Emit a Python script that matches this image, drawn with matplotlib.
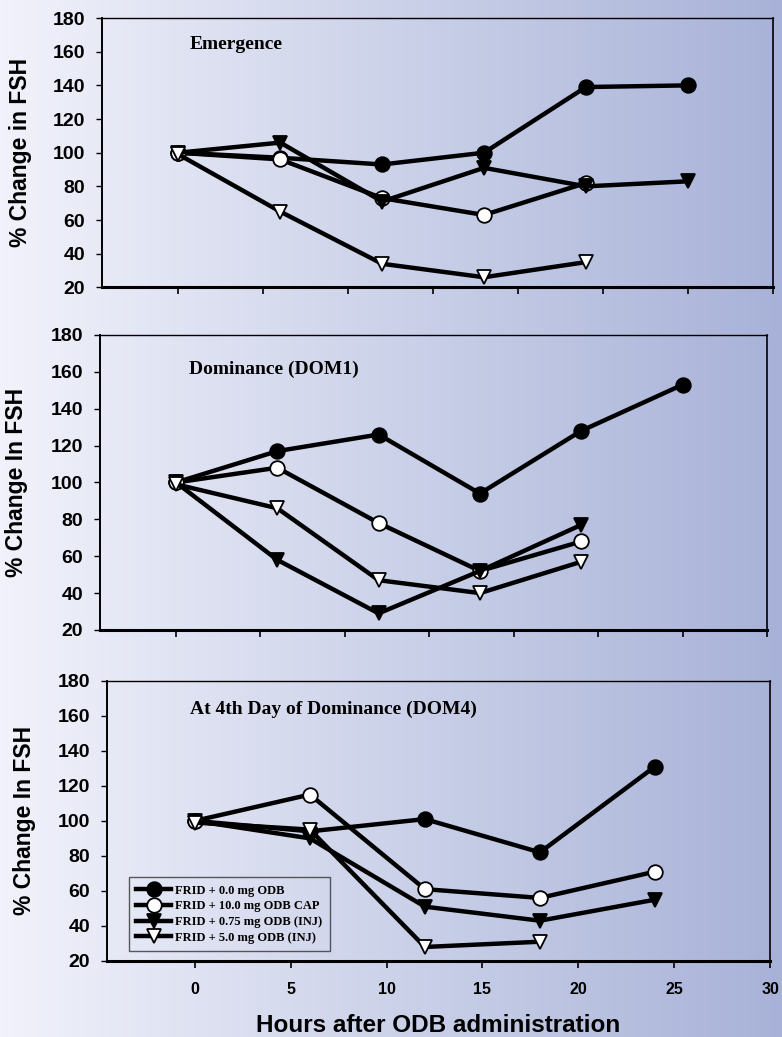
import numpy as np
import matplotlib
matplotlib.use("Agg")
import matplotlib.pyplot as plt
from matplotlib.colors import LinearSegmentedColormap

# sampling times (hours after ODB)
hours = [0, 6, 12, 18, 24, 30]

# Emergence
ctrl_emg = [100, 97, 93, 100, 139, 140]
cap_emg = [100, 96, 73, 63, 82]
inj075_emg = [100, 106, 71, 91, 80, 83]
inj5_emg = [99, 65, 34, 26, 35]

# Dominance (DOM1)
ctrl_dom1 = [100, 117, 126, 94, 128, 153]
cap_dom1 = [100, 108, 78, 52, 68]
inj075_dom1 = [100, 58, 29, 52, 77]
inj5_dom1 = [99, 86, 47, 40, 57]

# 4th day of dominance (DOM4)
ctrl_dom4 = [100, 94, 101, 82, 131]
cap_dom4 = [100, 115, 61, 56, 71]
inj075_dom4 = [100, 90, 51, 43, 55]
inj5_dom4 = [99, 95, 28, 31]

labels = ["FRID + 0.0 mg ODB", "FRID + 10.0 mg ODB CAP",
          "FRID + 0.75 mg ODB (INJ)", "FRID + 5.0 mg ODB (INJ)"]
yticks = [20, 40, 60, 80, 100, 120, 140, 160, 180]

styles = [dict(marker="o", mfc="black"),
          dict(marker="o", mfc="white"),
          dict(marker="v", mfc="black"),
          dict(marker="v", mfc="white")]

fig = plt.figure(figsize=(7.82, 10.37), dpi=100)

# background gradient, light on the left to blue on the right
bg = fig.add_axes([0, 0, 1, 1], zorder=-10)
cmap = LinearSegmentedColormap.from_list("bg", ["#f1f2fb", "#ccd2e9", "#a8b2d8"])
bg.imshow(np.linspace(0, 1, 256).reshape(1, -1), aspect="auto", cmap=cmap,
          extent=[0, 1, 0, 1])
bg.axis("off")

panels = [
    dict(rect=[0.1304, 0.7229, 0.8577, 0.2597], data=[ctrl_emg, cap_emg, inj075_emg, inj5_emg],
         title="Emergence", tpos=(0.130, 0.885), ylabel="% Change in FSH",
         xlim=(-4.5, 35), xticks=[0, 5, 10, 15, 20, 25, 30, 35], ylx=-0.105),
    dict(rect=[0.1279, 0.3925, 0.8529, 0.2845], data=[ctrl_dom1, cap_dom1, inj075_dom1, inj5_dom1],
         title="Dominance (DOM1)", tpos=(0.134, 0.868), ylabel="% Change In FSH",
         xlim=(-4.5, 35), xticks=[0, 5, 10, 15, 20, 25, 30, 35], ylx=-0.108),
    dict(rect=[0.1364, 0.0733, 0.8483, 0.2703], data=[ctrl_dom4, cap_dom4, inj075_dom4, inj5_dom4],
         title="At 4th Day of Dominance (DOM4)", tpos=(0.126, 0.881), ylabel="% Change In FSH",
         xlim=(-4.6, 30), xticks=[0, 5, 10, 15, 20, 25, 30], ylx=-0.106),
]

for i, p in enumerate(panels):
    ax = fig.add_axes(p["rect"])
    ax.set_facecolor("none")
    for ser, st, lab in zip(p["data"], styles, labels):
        ax.plot(hours[:len(ser)], ser, color="black", lw=3.2, ms=10.5, mec="black",
                mew=1.3, label=lab, zorder=3, clip_on=False, **st)
    ax.set_xlim(*p["xlim"])
    ax.set_ylim(20, 180)
    ax.set_yticks(yticks)
    ax.set_xticks(p["xticks"])
    ax.tick_params(axis="y", direction="out", length=4, width=1, pad=8,
                   labelsize=14)
    ax.tick_params(axis="x", direction="out", length=5, width=1.2, pad=10,
                   labelsize=11.5)
    for t in ax.get_yticklabels() + ax.get_xticklabels():
        t.set_fontweight("bold")
        t.set_family("Liberation Sans")
    if i < 2:
        ax.set_xticklabels([])
    ax.spines["bottom"].set_linewidth(2.2)
    ax.spines["left"].set_linewidth(1.4)
    ax.spines["top"].set_linewidth(1.0)
    ax.spines["right"].set_linewidth(1.2)
    ax.set_ylabel(p["ylabel"], fontsize=16.5, fontweight="bold", family="Liberation Sans")
    ax.yaxis.set_label_coords(p["ylx"], 0.5)
    ax.text(p["tpos"][0], p["tpos"][1], p["title"], transform=ax.transAxes,
            ha="left", va="baseline", fontsize=14, fontweight="bold",
            family="Liberation Serif")
    if i == 2:
        ax.set_xlabel("Hours after ODB administration", fontsize=17.5,
                      fontweight="bold", family="Liberation Sans")
        ax.xaxis.set_label_coords(0.5, -0.19)
        leg = ax.legend(loc="lower left", bbox_to_anchor=(0.024, 0.012),
                        frameon=True, fancybox=False, edgecolor="#333333",
                        facecolor="none", handlelength=2.8, handletextpad=0.3,
                        borderpad=0.6, labelspacing=0.3, markerscale=1.0,
                        prop=dict(family="Liberation Serif", weight="bold", size=9))
        leg.get_frame().set_linewidth(1.0)

fig.savefig("out.png", dpi=100)
